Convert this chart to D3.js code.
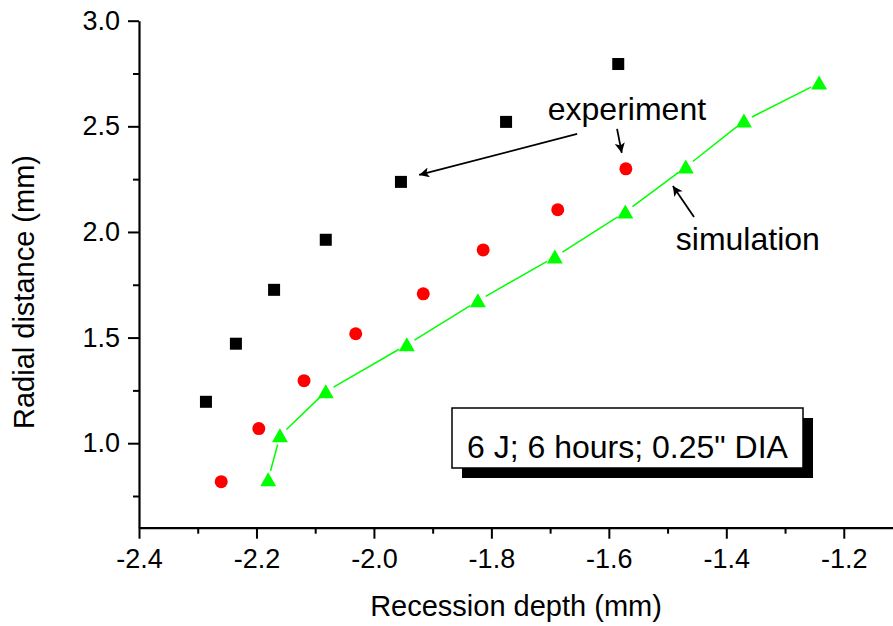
<!DOCTYPE html>
<html>
<head>
<meta charset="utf-8">
<script src="https://cdn.jsdelivr.net/npm/d3@7/dist/d3.min.js"></script>
<style>
  body { margin: 0; background: #fff; }
  text { font-family: "Liberation Sans", Arial, sans-serif; fill: #000; }
</style>
</head>
<body>
<svg id="chart"></svg>
<script>
// recession depth (mm) vs radial distance (mm)
const expSquareX = [-2.286, -2.235, -2.170, -2.082, -1.954, -1.775, -1.584];
const expSquareY = [1.196, 1.471, 1.726, 1.963, 2.237, 2.521, 2.795];
const expCircleX = [-2.260, -2.196, -2.119, -2.031, -1.916, -1.814, -1.687, -1.571];
const expCircleY = [0.818, 1.069, 1.296, 1.518, 1.707, 1.915, 2.105, 2.299];
const simX = [-2.180, -2.160, -2.082, -1.944, -1.823, -1.692, -1.572, -1.469, -1.370, -1.242];
const simY = [0.827, 1.035, 1.244, 1.466, 1.674, 1.882, 2.094, 2.307, 2.525, 2.705];

const xTicks = [-2.4, -2.2, -2.0, -1.8, -1.6, -1.4, -1.2];
const xMinor = [-2.3, -2.1, -1.9, -1.7, -1.5, -1.3, -1.1];
const yTicks = [1.0, 1.5, 2.0, 2.5, 3.0];
const yMinor = [0.75, 1.25, 1.75, 2.25, 2.75];

const width = 893, height = 626;
const svg = d3.select("#chart").attr("width", width).attr("height", height);

const x = d3.scaleLinear().domain([-2.4, -1.1]).range([139, 902.5]);
const y = d3.scaleLinear().domain([0.6, 3.0]).range([527.7, 20.7]);

// minor ticks first, then major axis on top
svg.append("g").attr("transform", "translate(0,527.7)")
  .call(d3.axisBottom(x).tickValues(xMinor).tickSize(6).tickFormat(""))
  .call(g => g.select(".domain").remove());
svg.append("g").attr("transform", "translate(139,0)")
  .call(d3.axisLeft(y).tickValues(yMinor).tickSize(6).tickFormat(""))
  .call(g => g.select(".domain").remove());

const xAxis = svg.append("g").attr("transform", "translate(0,527.7)")
  .call(d3.axisBottom(x).tickValues(xTicks).tickSize(11).tickSizeOuter(0).tickPadding(10)
    .tickFormat(d => d.toFixed(1)));
const yAxis = svg.append("g").attr("transform", "translate(139,0)")
  .call(d3.axisLeft(y).tickValues(yTicks).tickSize(11).tickSizeOuter(0).tickPadding(8)
    .tickFormat(d => d.toFixed(1)));

svg.selectAll(".tick line").attr("stroke-width", 2);
svg.selectAll(".domain").attr("stroke-width", 2.2);
svg.selectAll(".tick text").attr("font-size", 27).attr("font-family", '"Liberation Sans", Arial, sans-serif');

// axis titles
svg.append("text")
  .attr("x", 516).attr("y", 616)
  .attr("text-anchor", "middle").attr("font-size", 29)
  .text("Recession depth (mm)");
svg.append("text")
  .attr("transform", "translate(34,292) rotate(-90)")
  .attr("text-anchor", "middle").attr("font-size", 29)
  .text("Radial distance (mm)");

// simulation line, broken around the markers
const simPts = simX.map((v, i) => [x(v), y(simY[i])]);
const gap = 9;
const segs = d3.pairs(simPts).map(([a, b]) => {
  const dx = b[0] - a[0], dy = b[1] - a[1];
  const len = Math.hypot(dx, dy);
  const ux = dx / len, uy = dy / len;
  return [a[0] + ux * gap, a[1] + uy * gap, b[0] - ux * gap, b[1] - uy * gap];
});
svg.append("g").selectAll("line").data(segs).join("line")
  .attr("x1", d => d[0]).attr("y1", d => d[1])
  .attr("x2", d => d[2]).attr("y2", d => d[3])
  .attr("stroke", "#00ff00").attr("stroke-width", 1.5);

// markers
svg.append("g").selectAll("rect").data(expSquareX).join("rect")
  .attr("x", (d, i) => x(d) - 6).attr("y", (d, i) => y(expSquareY[i]) - 6)
  .attr("width", 12).attr("height", 12).attr("fill", "#000");

svg.append("g").selectAll("circle").data(expCircleX).join("circle")
  .attr("cx", d => x(d)).attr("cy", (d, i) => y(expCircleY[i]))
  .attr("r", 6.5).attr("fill", "#ff0000");

svg.append("g").selectAll("path").data(simX).join("path")
  .attr("transform", (d, i) => `translate(${x(d)},${y(simY[i])})`)
  .attr("d", "M0,-7.5L8,6.5L-8,6.5Z")
  .attr("fill", "#00ff00");

// annotations (data coordinates)
const defs = svg.append("defs");
defs.append("marker").attr("id", "head")
  .attr("viewBox", "0 0 10 10").attr("refX", 10).attr("refY", 5)
  .attr("markerWidth", 15).attr("markerHeight", 10).attr("orient", "auto")
  .attr("markerUnits", "userSpaceOnUse")
  .append("path").attr("d", "M0,0L10,5L0,10L2.5,5Z").attr("fill", "#000");

const arrows = [
  [[-1.654, 2.464], [-1.923, 2.270]],
  [[-1.586, 2.488], [-1.578, 2.374]],
  [[-1.455, 2.071], [-1.491, 2.218]]
];
svg.append("g").selectAll("line").data(arrows).join("line")
  .attr("x1", d => x(d[0][0])).attr("y1", d => y(d[0][1]))
  .attr("x2", d => x(d[1][0])).attr("y2", d => y(d[1][1]))
  .attr("stroke", "#000").attr("stroke-width", 1.8)
  .attr("marker-end", "url(#head)");

svg.append("text").attr("x", x(-1.704)).attr("y", y(2.530))
  .attr("font-size", 32).text("experiment");
svg.append("text").attr("x", x(-1.486)).attr("y", y(1.915))
  .attr("font-size", 32).text("simulation");

// info box with drop shadow
const box = svg.append("g");
box.append("rect").attr("x", 462).attr("y", 418).attr("width", 351).attr("height", 60).attr("fill", "#000");
box.append("rect").attr("x", 452).attr("y", 408).attr("width", 351).attr("height", 60)
  .attr("fill", "#fff").attr("stroke", "#000").attr("stroke-width", 1.5);
box.append("text").attr("x", 627.5).attr("y", 458).attr("text-anchor", "middle")
  .attr("font-size", 32).text('6 J; 6 hours; 0.25" DIA');
</script>
</body>
</html>
